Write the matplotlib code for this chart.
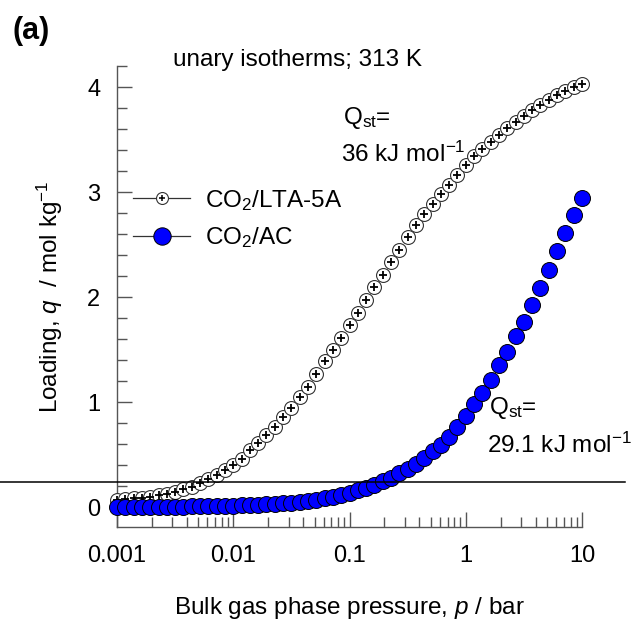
import matplotlib
matplotlib.use("Agg")
import matplotlib.pyplot as plt
from matplotlib.lines import Line2D
from matplotlib.legend_handler import HandlerTuple
from matplotlib.ticker import MultipleLocator, LogLocator, NullFormatter, FixedLocator, FixedFormatter

plt.rcParams["font.family"] = ["Liberation Sans", "DejaVu Sans"]
plt.rcParams["mathtext.fontset"] = "custom"
plt.rcParams["mathtext.rm"] = "Liberation Sans"
plt.rcParams["mathtext.it"] = "Liberation Sans:italic"

# bulk pressure, bar (shared grid)
p_bar = [0.00100, 0.00118, 0.00139, 0.00164, 0.00193, 0.00228, 0.00268, 0.00316, 0.00373, 0.00439, 0.00518, 0.00611, 0.00720, 0.00848,
         0.0100, 0.0118, 0.0139, 0.0164, 0.0193, 0.0228, 0.0268, 0.0316, 0.0373, 0.0439, 0.0518, 0.0611, 0.0720, 0.0848,
         0.100, 0.118, 0.139, 0.164, 0.193, 0.228, 0.268, 0.316, 0.373, 0.439, 0.518, 0.611, 0.720, 0.848,
         1.00, 1.18, 1.39, 1.64, 1.93, 2.28, 2.68, 3.16, 3.73, 4.39, 5.18, 6.11, 7.20, 8.48, 10.0]
# CO2 loadings, mol/kg
q_lta = [0.068, 0.075, 0.082, 0.090, 0.100, 0.113, 0.128, 0.148, 0.168, 0.193, 0.225, 0.264, 0.305, 0.352,
         0.398, 0.460, 0.540, 0.610, 0.685, 0.760, 0.855, 0.945, 1.05, 1.145, 1.27, 1.39, 1.50, 1.61,
         1.735, 1.85, 1.97, 2.10, 2.21, 2.33, 2.45, 2.57, 2.685, 2.79, 2.89, 2.98, 3.07, 3.16,
         3.26, 3.34, 3.41, 3.48, 3.54, 3.61, 3.67, 3.72, 3.78, 3.83, 3.88, 3.92, 3.96, 4.00, 4.03]
q_ac = [0.0013, 0.0015, 0.0018, 0.0021, 0.0025, 0.0030, 0.0035, 0.0041, 0.0048, 0.0057, 0.0067, 0.0079, 0.0094, 0.011,
        0.013, 0.015, 0.018, 0.021, 0.025, 0.030, 0.035, 0.041, 0.048, 0.057, 0.070, 0.083, 0.098, 0.117,
        0.136, 0.160, 0.183, 0.212, 0.245, 0.280, 0.320, 0.362, 0.412, 0.465, 0.530, 0.595, 0.670, 0.760,
        0.865, 0.980, 1.09, 1.21, 1.35, 1.48, 1.63, 1.76, 1.92, 2.09, 2.26, 2.44, 2.61, 2.78, 2.94]
x_ticks = [0.001, 0.01, 0.1, 1, 10]
x_labels = ["0.001", "0.01", "0.1", "1", "10"]
ref_line = 0.238  # stray horizontal rule across the figure

W, H = 632, 620
fs = 17.5
fig = plt.figure(figsize=(W / 100, H / 100), dpi=100)
ax = fig.add_axes([117 / W, 93 / H, 465 / W, 461 / H])

ax.plot(p_bar, q_lta, "o", ls="none", ms=10, mfc="white", mec="#333333", mew=0.8, clip_on=False, zorder=3)
ax.plot(p_bar, q_lta, "+", ls="none", ms=6, color="black", mew=1.3, clip_on=False, zorder=4)
ax.plot(p_bar, q_ac, "o", ls="none", ms=11.5, mfc="#0000ff", mec="black", mew=0.7, clip_on=False, zorder=5)

ax.axhline(ref_line, xmin=-0.252, xmax=1.092, color="black", lw=1.1, clip_on=False, zorder=10)

ax.set_xscale("log")
ax.set_xlim(1e-3, 10)
ax.set_ylim(-0.19, 4.2)
ax.xaxis.set_major_locator(FixedLocator(x_ticks))
ax.xaxis.set_major_formatter(FixedFormatter(x_labels))
ax.xaxis.set_minor_locator(LogLocator(base=10, subs=range(2, 10)))
ax.xaxis.set_minor_formatter(NullFormatter())
ax.yaxis.set_major_locator(MultipleLocator(1))
ax.yaxis.set_minor_locator(MultipleLocator(0.2))
for s in ("top", "right"):
    ax.spines[s].set_visible(False)
for s in ("left", "bottom"):
    ax.spines[s].set_color("#555555")
    ax.spines[s].set_linewidth(1.0)
ax.tick_params(which="both", direction="in", colors="#555555", labelcolor="black", labelsize=17, width=1.0)
ax.tick_params(which="major", length=11)
ax.tick_params(which="minor", length=7)
ax.tick_params(axis="x", which="major", pad=13)
ax.tick_params(axis="y", which="major", pad=12)

ax.set_xlabel("Bulk gas phase pressure, $p$ / bar", fontsize=fs, labelpad=20)
ax.set_ylabel("Loading, $q$  / mol kg$^{-1}$", fontsize=fs, labelpad=16)

h_lta = (Line2D([], [], color="#333333", lw=0.9),
         Line2D([], [], marker="o", ls="none", ms=8.6, mfc="white", mec="#333333", mew=0.8),
         Line2D([], [], marker="+", ls="none", ms=5, color="black", mew=1.1))
h_ac = (Line2D([], [], color="#333333", lw=0.9),
        Line2D([], [], marker="o", ls="none", ms=12.5, mfc="#0000ff", mec="black", mew=0.7))
ax.legend([h_lta, h_ac], ["CO$_2$/LTA-5A", "CO$_2$/AC"], handler_map={tuple: HandlerTuple(ndivide=1)},
          loc="upper left", bbox_to_anchor=(133 / W, 1 - 188 / H), bbox_transform=fig.transFigure,
          frameon=False, fontsize=fs, handlelength=2.35, handletextpad=0.6, labelspacing=0.5,
          borderpad=0, borderaxespad=0)

fig.text(12 / W, 1 - 31 / H, "(a)", fontsize=22, fontweight="bold", va="center", ha="left")
fig.text(173 / W, 1 - 60 / H, "unary isotherms; 313 K", fontsize=fs, va="center", ha="left")
fig.text(343 / W, 1 - 118 / H, r"$\mathrm{Q_{st}}$=", fontsize=fs, va="center", ha="left")
fig.text(341 / W, 1 - 154 / H, "36 kJ mol$^{-1}$", fontsize=fs, va="center", ha="left")
fig.text(489 / W, 1 - 408 / H, r"$\mathrm{Q_{st}}$=", fontsize=fs, va="center", ha="left")
fig.text(487 / W, 1 - 445 / H, "29.1 kJ mol$^{-1}$", fontsize=fs, va="center", ha="left")

fig.savefig("out.png", dpi=100)
